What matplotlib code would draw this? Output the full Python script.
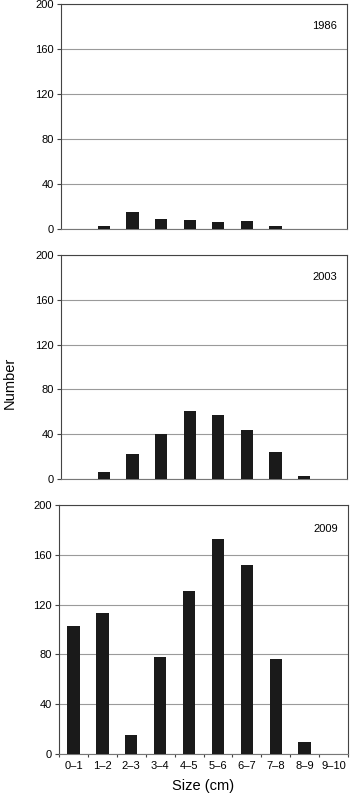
import matplotlib
matplotlib.use("Agg")
import matplotlib.pyplot as plt
import numpy as np

plt.rcParams['font.family'] = ['Liberation Sans', 'DejaVu Sans']

categories = ["0–1", "1–2", "2–3", "3–4", "4–5", "5–6", "6–7", "7–8", "8–9", "9–10"]
years = ["1986", "2003", "2009"]
counts_1986 = [0, 3, 15, 9, 8, 6, 7, 3, 0, 0]
counts_2003 = [0, 6, 22, 40, 61, 57, 44, 24, 3, 0]
counts_2009 = [103, 113, 15, 78, 131, 173, 152, 76, 10, 0]
series = [counts_1986, counts_2003, counts_2009]
yticks = [0, 40, 80, 120, 160, 200]

fig = plt.figure(figsize=(3.5, 7.95), dpi=100)
rects = [
    [61/350, (795-229)/795, 286/350, 225/795],
    [61/350, (795-479)/795, 286/350, 224/795],
    [59/350, (795-754)/795, 289/350, 249/795],
]

x = np.arange(len(categories))
for i, (rect, year, vals) in enumerate(zip(rects, years, series)):
    ax = fig.add_axes(rect)
    ax.bar(x, vals, width=0.43, color='#1a1a1a', zorder=3)
    ax.set_xlim(-0.5, len(categories) - 0.5)
    ax.set_ylim(0, 200)
    ax.set_yticks(yticks)
    ax.set_yticklabels([str(t) for t in yticks], fontsize=8)
    ax.yaxis.grid(True, color='#9a9a9a', linewidth=0.8, zorder=0)
    ax.tick_params(axis='y', length=3, width=0.8, color='#444444', pad=2)
    for s in ax.spines.values():
        s.set_color('#444444')
        s.set_linewidth(0.8)
    ax.spines['bottom'].set_color('#777777')
    ax.text(0.965, 0.902, year, transform=ax.transAxes, ha='right', va='center', fontsize=8)
    if i == 2:
        ax.set_xticks(x)
        ax.set_xticklabels(categories, fontsize=8)
        ax.set_xticks(np.arange(len(categories) + 1) - 0.5, minor=True)
        ax.tick_params(axis='x', which='major', length=0, pad=5)
        ax.tick_params(axis='x', which='minor', length=2, width=0.8, color='#444444')
        ax.set_xlabel("Size (cm)", fontsize=10.5, labelpad=6)
    else:
        ax.set_xticks([])

fig.text(10/350, 1 - 383/795, "Number", rotation=90, ha='center', va='center', fontsize=10.5)

fig.savefig("out.png", dpi=100)
